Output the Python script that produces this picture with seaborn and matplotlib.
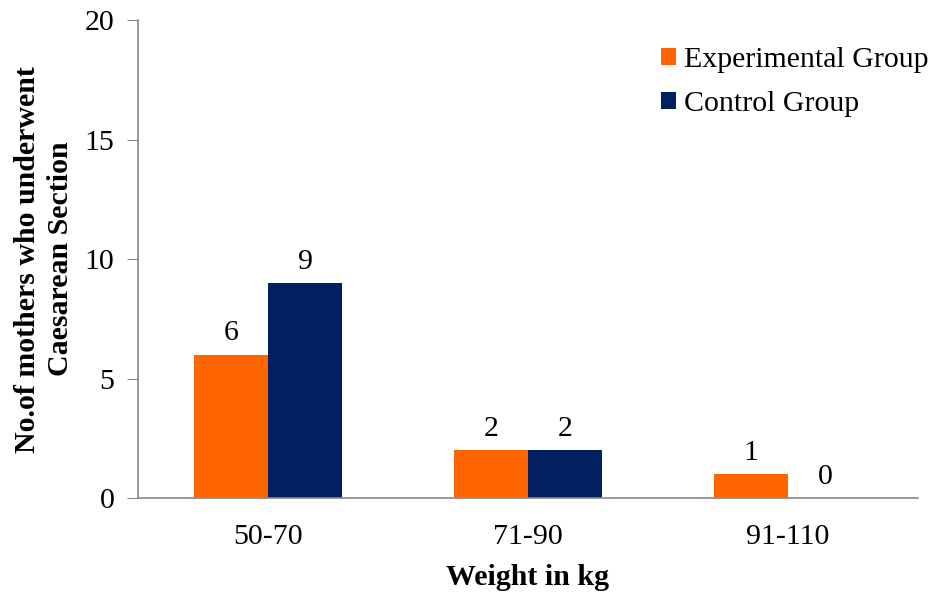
import pandas as pd
import matplotlib.pyplot as plt
import seaborn as sns

# Dados do gráfico
weights = ["50-70", "71-90", "91-110"]
experimental = [6, 2, 1]
control = [9, 2, 0]
groups = ["Experimental Group", "Control Group"]

df = pd.DataFrame({
    "weight": weights * 2,
    "count": experimental + control,
    "group": [groups[0]] * 3 + [groups[1]] * 3,
})

sns.set_style("white")
plt.rcParams['font.family'] = ['Liberation Serif', 'DejaVu Serif']
plt.rcParams['text.color'] = 'black'
plt.rcParams['axes.labelcolor'] = 'black'
plt.rcParams['xtick.color'] = 'black'
plt.rcParams['ytick.color'] = 'black'

fs = 21.5

fig = plt.figure(figsize=(9.35, 5.96), dpi=100)
ax = fig.add_axes([0.1476, 0.1644, 0.834, 0.8016])

sns.barplot(data=df, x="weight", y="count", hue="group",
            palette=["#FF6600", "#002060"], width=0.57, ax=ax,
            saturation=1, linewidth=0, legend=True)

for cont in ax.containers:
    ax.bar_label(cont, fontsize=fs, padding=6)

ax.set_ylim(0, 20)
ax.set_yticks([0, 5, 10, 15, 20])
ax.set_xlim(-0.5, 2.5)
ax.tick_params(axis='y', labelsize=fs, length=8, color='#888888', left=True, pad=9)
ax.tick_params(axis='x', labelsize=fs, length=0, pad=19)

for side in ["top", "right"]:
    ax.spines[side].set_visible(False)
for side in ["left", "bottom"]:
    ax.spines[side].set_color('#888888')
    ax.spines[side].set_linewidth(1.2)

ax.set_xlabel("Weight in kg", fontsize=fs, fontweight='bold', labelpad=10)
ax.set_ylabel("No.of mothers who underwent\nCaesarean Section", fontsize=fs,
              fontweight='bold', labelpad=8, linespacing=1.25)

ax.legend(loc='upper right', bbox_to_anchor=(1.048, 1.0), frameon=False,
          fontsize=fs, handlelength=0.53, handleheight=0.53, handletextpad=0.25,
          labelspacing=0.6)

plt.savefig("out.png", dpi=100)
